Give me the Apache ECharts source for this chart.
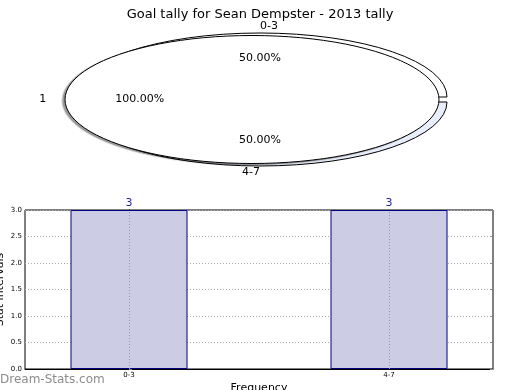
<!DOCTYPE html>
<html><head><meta charset="utf-8">
<script src="https://cdn.jsdelivr.net/npm/echarts@6/dist/echarts.min.js"></script>
<style>
html,body{margin:0;padding:0;background:#fff;}
#pie{position:absolute;left:0;top:0;width:520px;height:190px;z-index:0;overflow:hidden;}
#main{position:absolute;left:0;top:0;width:520px;height:390px;z-index:1;}
#pie svg path{vector-effect:non-scaling-stroke;}
</style></head><body>
<div id="pie"></div><div id="main"></div>
<script>
const chartTitle = 'Goal tally for Sean Dempster - 2013 tally';
const innerLabels = ['1'];
const innerValues = [1];
const outerLabels = ['0-3', '4-7'];
const outerValues = [3, 3];
const barCategories = ['0-3', '4-7'];
const barValues = [3, 3];
const barPositions = [0, 1];

const FONT = '"DejaVu Sans", "Liberation Sans", sans-serif';
// pie geometry (display px)
const RX = 187, RY = 64;
const K = RY / RX;
const PIE_H = 190;
const PIE_CH = PIE_H / K;
const innerC = [252, 99.5];
const outerC = [260, 99.5];
const EXPLODE = 2.5;

const pie = echarts.init(document.getElementById('pie'), null, {renderer: 'svg', width: 520, height: PIE_CH});
pie.setOption({
  animation: false,
  series: [
    {
      type: 'pie', silent: true, center: [outerC[0], outerC[1] / K], radius: [0, RX],
      startAngle: 0, clockwise: false, selectedMode: 'multiple', selectedOffset: EXPLODE / K,
      label: {show: false}, labelLine: {show: false}, emphasis: {disabled: true},
      data: outerValues.map((v, i) => {
        const st = {color: i === 0 ? '#ffffff' : '#e8eefb', borderColor: '#000', borderWidth: 1};
        return {value: v, name: outerLabels[i], selected: true, itemStyle: st, select: {itemStyle: st}};
      })
    },
    {
      type: 'pie', silent: true, center: [innerC[0], innerC[1] / K], radius: [0, RX],
      startAngle: 0, clockwise: false,
      label: {show: false}, labelLine: {show: false}, emphasis: {disabled: true},
      data: innerValues.map((v, i) => ({
        value: v, name: innerLabels[i],
        itemStyle: {color: '#ffffff', borderColor: '#000', borderWidth: 1,
          shadowColor: 'rgba(0,0,0,0.4)', shadowBlur: 1, shadowOffsetX: -2.5, shadowOffsetY: 1.2 / K}
      }))
    }
  ]
});
function fixSvg() {
  const svg = document.querySelector('#pie svg');
  if (!svg) return;
  svg.setAttribute('viewBox', '0 0 520 ' + PIE_CH);
  svg.setAttribute('preserveAspectRatio', 'none');
  svg.setAttribute('width', '520');
  svg.setAttribute('height', String(PIE_H));
  svg.style.width = '520px';
  svg.style.height = PIE_H + 'px';
  const wrap = svg.parentNode;
  if (wrap && wrap.style) { wrap.style.height = PIE_H + 'px'; }
}
fixSvg();
pie.on('finished', fixSvg);
setTimeout(fixSvg, 0);
setTimeout(fixSvg, 200);

function pieTexts(values, labels, c, explode) {
  const total = values.reduce((a, b) => a + b, 0);
  let a = 0;
  const out = [];
  values.forEach((v, i) => {
    const ext = v / total * 360;
    const mid = (a + ext / 2) * Math.PI / 180;
    a += ext;
    const cos = Math.cos(mid), sin = Math.sin(mid);
    const ox = c[0] + explode * cos, oy = c[1] - explode * sin;
    const al = cos > 0 ? 'left' : (cos < 0 ? 'right' : 'center');
    out.push({type: 'text', x: ox + 1.1 * RX * cos, y: oy - 1.1 * RY * sin, silent: true,
      style: {text: labels[i], align: al, textAlign: al, verticalAlign: 'middle', textVerticalAlign: 'middle',
        fontSize: 11, fontFamily: FONT, fill: '#000'}});
    out.push({type: 'text', x: ox + 0.6 * RX * cos, y: oy - 0.6 * RY * sin, silent: true,
      style: {text: (v / total * 100).toFixed(2) + '%', align: 'center', textAlign: 'center',
        verticalAlign: 'middle', textVerticalAlign: 'middle', fontSize: 11, fontFamily: FONT, fill: '#000'}});
  });
  return out;
}

const GRID = {left: 25, right: 27, top: 210, bottom: 21};
const XMIN = -0.4, XMAX = 1.4;
const BAR_W = 0.45 / (XMAX - XMIN) * (520 - GRID.left - GRID.right);

const main = echarts.init(document.getElementById('main'));
main.setOption({
  animation: false,
  backgroundColor: 'transparent',
  title: {text: chartTitle, left: 'center', top: 3,
    textStyle: {fontSize: 13, fontWeight: 'normal', fontFamily: FONT, color: '#000'}},
  graphic: [
    ...pieTexts(outerValues, outerLabels, outerC, EXPLODE),
    ...pieTexts(innerValues, innerLabels, innerC, 0),
    {type: 'text', left: 0, top: 374, silent: true,
      style: {text: 'Dream-Stats.com', fontSize: 12, fontFamily: FONT, fill: '#8c8c8c'}}
  ],
  grid: Object.assign({show: true, borderColor: '#000', borderWidth: 1, backgroundColor: 'transparent',
    containLabel: false, outerBoundsMode: 'none'}, GRID),
  xAxis: {
    type: 'value', min: XMIN, max: XMAX,
    name: 'Frequency', nameLocation: 'middle', nameGap: 14, nameMoveOverlap: false,
    nameTextStyle: {fontSize: 11, fontFamily: FONT, color: '#000'},
    axisLine: {show: true, lineStyle: {color: '#000'}},
    axisTick: {show: false, customValues: barPositions},
    axisLabel: {customValues: barPositions, fontSize: 7, fontFamily: FONT, color: '#000', margin: 3,
      formatter: v => barCategories[Math.round(v)]},
    splitLine: {show: false}
  },
  yAxis: [{
    type: 'value', min: 0, max: 3, interval: 0.5,
    name: 'Stat intervals', nameLocation: 'middle', nameGap: 19.5, nameMoveOverlap: false,
    nameTextStyle: {fontSize: 11, fontFamily: FONT, color: '#000'},
    axisLine: {show: true, lineStyle: {color: '#000'}},
    axisTick: {show: true, inside: true, length: 3, lineStyle: {color: '#888'}},
    axisLabel: {fontSize: 7, fontFamily: FONT, color: '#000', margin: 3, formatter: v => v.toFixed(1)},
    splitLine: {show: true, lineStyle: {color: '#aaa', type: [1, 2], width: 1}}
  }, {
    type: 'value', min: 0, max: 3, interval: 0.5, position: 'right',
    axisLine: {show: false},
    axisTick: {show: true, inside: true, length: 3, lineStyle: {color: '#888'}},
    axisLabel: {show: false}, splitLine: {show: false}
  }],
  series: [{
    type: 'bar', yAxisIndex: 0,
    data: barPositions.map((p, i) => [p, barValues[i]]),
    barWidth: BAR_W,
    itemStyle: {color: '#ccccE4', borderColor: '#000080', borderWidth: 1},
    label: {show: true, position: 'top', distance: 1, color: '#1f1f99', fontSize: 11, fontFamily: FONT},
    emphasis: {disabled: true},
    markLine: {silent: true, symbol: 'none', label: {show: false}, animation: false,
      lineStyle: {color: '#999', type: [1, 2], width: 1},
      data: barPositions.map(p => ({xAxis: p}))}
  }]
});
</script>
</body></html>
